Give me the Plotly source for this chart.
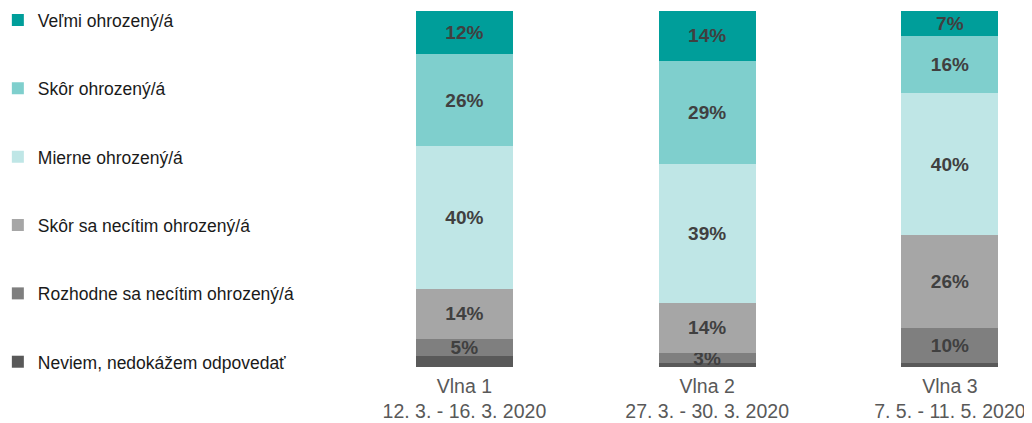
import plotly.graph_objects as go

categories = ["Vlna 1<br>12. 3. - 16. 3. 2020", "Vlna 2<br>27. 3. - 30. 3. 2020", "Vlna 3<br>7. 5. - 11. 5. 2020"]
series_names = ["Neviem, nedokážem odpovedať", "Rozhodne sa necítim ohrozený/á", "Skôr sa necítim ohrozený/á",
                "Mierne ohrozený/á", "Skôr ohrozený/á", "Veľmi ohrozený/á"]
neviem = [3, 1, 1]
rozhodne = [5, 3, 10]
skor_nie = [14, 14, 26]
mierne = [40, 39, 40]
skor = [26, 29, 16]
velmi = [12, 14, 7]
values = [neviem, rozhodne, skor_nie, mierne, skor, velmi]
show_labels = [False, True, True, True, True, True]
colors = ["#595959", "#7f7f7f", "#a6a6a6", "#bfe6e6", "#7fcfcd", "#009e9a"]

x = [0, 1, 2]
fig = go.Figure()
n = len(series_names)
for i, (name, vals) in enumerate(zip(series_names, values)):
    fig.add_trace(go.Bar(
        x=x, y=vals, name=name, legendgroup=f"g{i}", legendrank=n - i,
        marker=dict(color=colors[i], line=dict(width=0)),
        text=[f"{v}%" for v in vals] if show_labels[i] else None,
        textposition="inside", insidetextanchor="middle", textangle=0,
        textfont=dict(family="Liberation Sans, Arial", size=19, color="#404040", weight="bold"),
        width=0.4,
    ))

fig.update_layout(
    barmode="stack",
    width=1024, height=415,
    margin=dict(l=334.5, r=2, t=3, b=56, autoexpand=False),
    plot_bgcolor="white", paper_bgcolor="white",
    font=dict(family="Liberation Sans, Arial", color="#1a1a1a"),
    uniformtext=dict(minsize=19, mode="show"),
    legend=dict(
        traceorder="grouped", tracegroupgap=42.6, maxheight=600,
        x=-0.5024, xref="paper", xanchor="left", y=1.025, yref="paper", yanchor="top",
        font=dict(size=17.5, color="#1a1a1a"), itemwidth=30,
        bgcolor="rgba(0,0,0,0)",
    ),
    xaxis=dict(tickvals=x, ticktext=categories, range=[-0.5, 2.33], showgrid=False,
               zeroline=False, showline=False, ticks="", automargin=False,
               ticklabelstandoff=5,
               tickfont=dict(size=19.5, color="#595959")),
    yaxis=dict(range=[0, 100], visible=False, automargin=False),
)
fig.write_html("out.html")
